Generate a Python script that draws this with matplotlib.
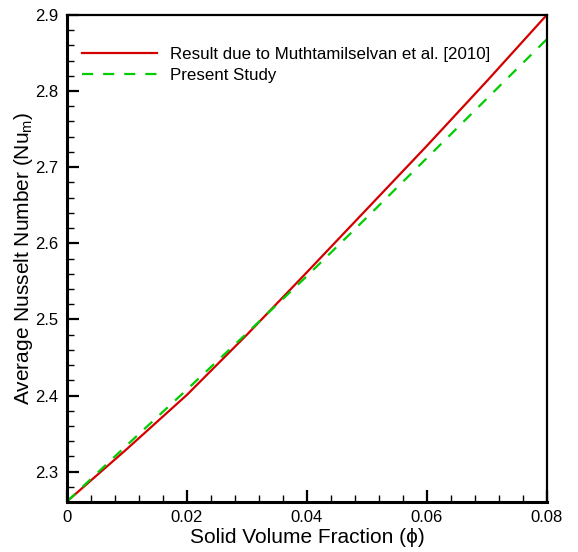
import matplotlib
matplotlib.use('Agg')
import matplotlib.pyplot as plt
from matplotlib.ticker import MultipleLocator

plt.rcParams['font.family'] = ['Liberation Sans', 'DejaVu Sans']
plt.rcParams['mathtext.fontset'] = 'custom'
plt.rcParams['mathtext.rm'] = 'Liberation Sans'
plt.rcParams['mathtext.it'] = 'Liberation Sans:italic'

# Data
phi = [0.0, 0.01, 0.02, 0.03, 0.04, 0.05, 0.06, 0.07, 0.08]
nu_ref = [2.261, 2.330, 2.401, 2.480, 2.562, 2.645, 2.728, 2.813, 2.900]
nu_present = [2.261, 2.335, 2.408, 2.482, 2.557, 2.634, 2.712, 2.790, 2.868]

label_ref = 'Result due to Muthtamilselvan et al. [2010]'
label_present = 'Present Study'

fig = plt.figure(figsize=(5.78, 5.52), dpi=100)
ax = fig.add_axes([0.116, 0.091, 0.830, 0.882])

ax.plot(phi, nu_ref, color='#d40000', linewidth=1.6, label=label_ref)
ax.plot(phi, nu_present, color='#00cc00', linewidth=1.6, linestyle=(0, (5, 4.5)),
        label=label_present)

ax.set_xlim(0, 0.08)
ax.set_ylim(2.2605, 2.9)

ax.xaxis.set_major_locator(MultipleLocator(0.02))
ax.xaxis.set_minor_locator(MultipleLocator(0.004))
ax.yaxis.set_major_locator(MultipleLocator(0.1))
ax.yaxis.set_minor_locator(MultipleLocator(0.02))
ax.set_xticks([0, 0.02, 0.04, 0.06, 0.08])
ax.set_xticklabels(['0', '0.02', '0.04', '0.06', '0.08'])

ax.tick_params(which='major', direction='in', length=8.5, width=1.6, labelsize=12,
               top=False, right=False, pad=6)
ax.tick_params(which='minor', direction='in', length=5, width=1.0,
               top=False, right=False)

for side in ['left', 'bottom']:
    ax.spines[side].set_linewidth(2.2)
for side in ['top', 'right']:
    ax.spines[side].set_linewidth(1.6)

ax.set_xlabel('Solid Volume Fraction (ϕ)', fontsize=15, labelpad=2)
ax.set_ylabel('Average Nusselt Number (Nu$_\\mathregular{m}$)', fontsize=15, labelpad=0)

ax.legend(loc='upper left', frameon=False, fontsize=12.2, handlelength=4.4,
          handletextpad=0.8, labelspacing=0.35, bbox_to_anchor=(0.0, 0.965))

fig.savefig('out.png', dpi=100)
